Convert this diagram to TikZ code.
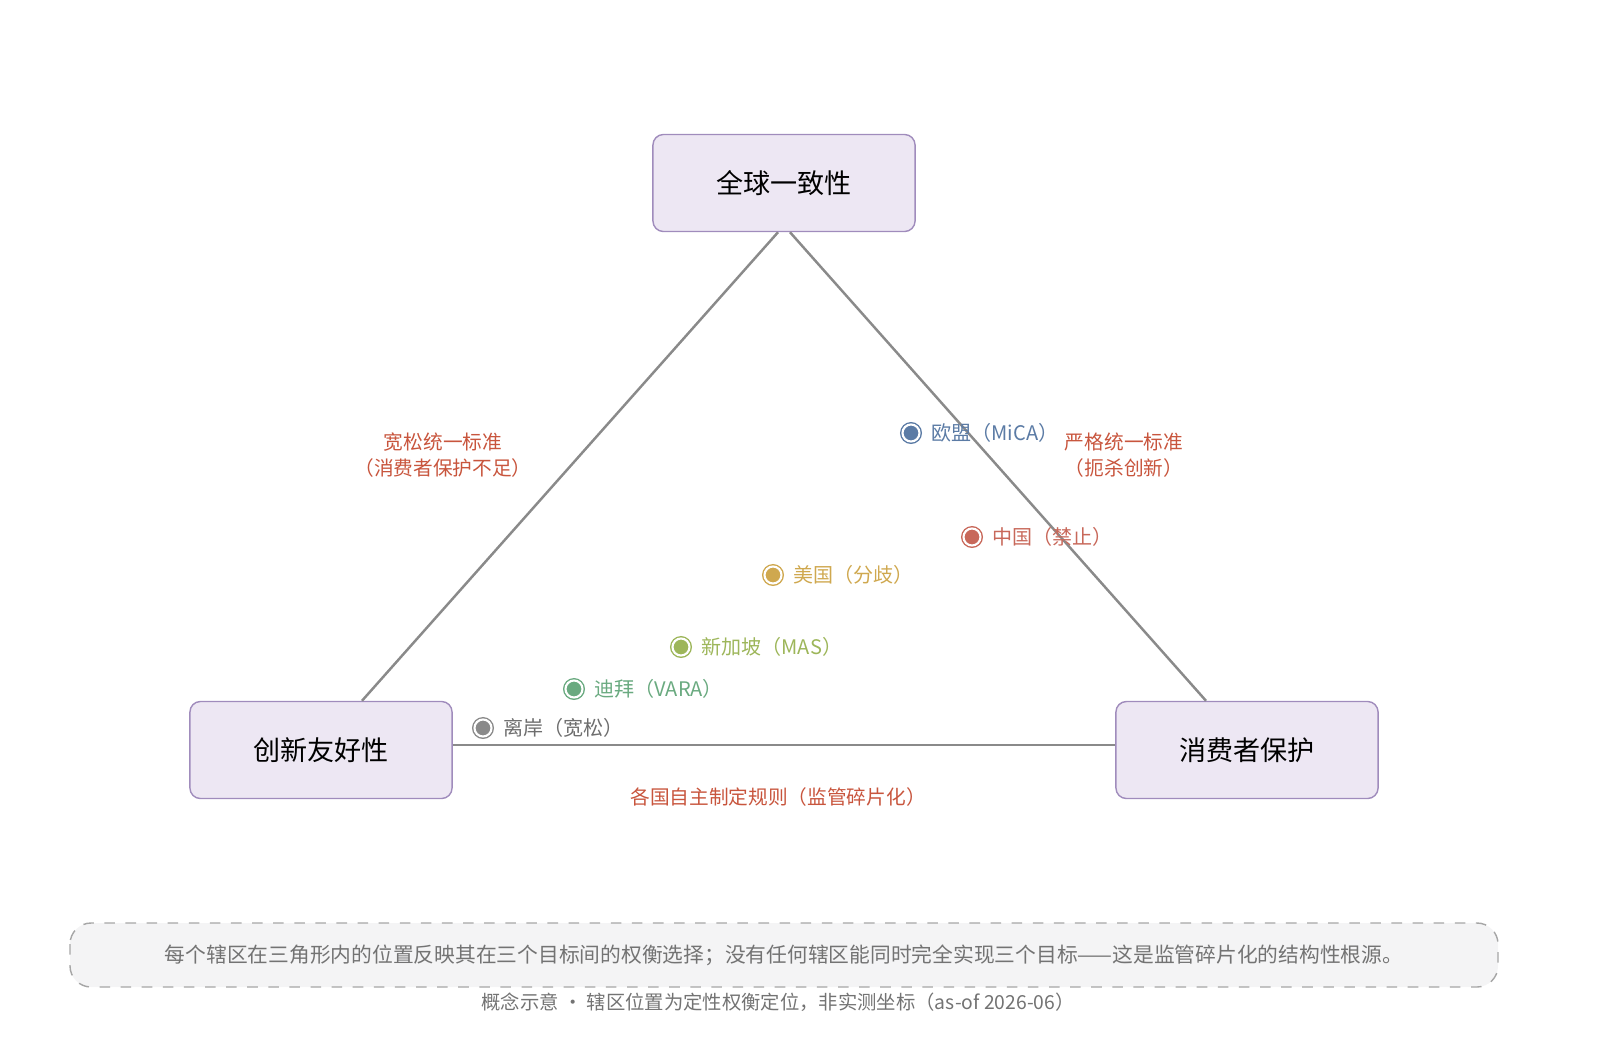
\documentclass[tikz,border=0pt]{standalone}
\usepackage{fontspec}
\setmainfont{Noto Sans CJK SC}
\definecolor{boxfill}{HTML}{EDE7F3}
\definecolor{boxdraw}{HTML}{A08CBC}
\definecolor{edgegray}{HTML}{8A8A8A}
\definecolor{tradered}{HTML}{C8553D}
\definecolor{eublue}{HTML}{5B7BA5}
\definecolor{cnred}{HTML}{C8685A}
\definecolor{usgold}{HTML}{CFA84F}
\definecolor{sggreen}{HTML}{9DB65A}
\definecolor{dbgreen}{HTML}{6AAA80}
\definecolor{offgray}{HTML}{8A8A8A}
\definecolor{notefill}{HTML}{F4F4F5}
\tikzset{
  goal/.style={draw=boxdraw, fill=boxfill, rounded corners=3pt, minimum width=2.62cm, minimum height=0.97cm, font=\fontsize{7.7}{9}\selectfont},
  tradeoff/.style={text=tradered, align=center, font=\fontsize{5.6}{7.6}\selectfont},
  juris/.style={circle, draw=#1, fill=#1, double=white, double distance=0.6pt, line width=0.4pt, minimum size=0.17cm, inner sep=0pt},
  jlabel/.style={right, font=\fontsize{5.7}{7}\selectfont, inner sep=3pt}
}
\begin{document}
\begin{tikzpicture}[x=0.01cm,y=-0.01cm]
\useasboundingbox (0,0) rectangle (1600,1054);

% three goals
\node[goal] (global) at (784,183) {全球一致性};
\node[goal] (innov) at (321,750) {创新友好性};
\node[goal] (consumer) at (1247,750) {消费者保护};

% triangle edges
\draw[edgegray, line width=0.7pt] (global.south) ++(-6,0) coordinate (gl) (gl) -- (innov.north -| 362,0);
\draw[edgegray, line width=0.7pt] (global.south) ++(6,0) coordinate (gr) (gr) -- (consumer.north -| 1206,0);
\draw[edgegray, line width=0.7pt] (innov.east |- 0,745) -- (consumer.west |- 0,745);

% trade-off labels
\node[tradeoff] (loose) at (443,455) {宽松统一标准\\（消费者保护不足）};
\node[tradeoff] (strict) at (1124,455) {严格统一标准\\（扼杀创新）};
\node[tradeoff] (frag) at (778,797) {各国自主制定规则（监管碎片化）};

% jurisdictions
\node[juris=eublue] (eu) at (911,433) {};
\node[jlabel, text=eublue] (eul) at (eu.east) {欧盟（MiCA）};
\node[juris=cnred] (cn) at (972,537) {};
\node[jlabel, text=cnred] (cnl) at (cn.east) {中国（禁止）};
\node[juris=usgold] (us) at (773,575) {};
\node[jlabel, text=usgold] (usl) at (us.east) {美国（分歧）};
\node[juris=sggreen] (sg) at (681,647) {};
\node[jlabel, text=sggreen] (sgl) at (sg.east) {新加坡（MAS）};
\node[juris=dbgreen] (db) at (574,689) {};
\node[jlabel, text=dbgreen] (dbl) at (db.east) {迪拜（VARA）};
\node[juris=offgray] (off) at (483,728) {};
\node[jlabel, text=offgray!80!black] (offl) at (off.east) {离岸（宽松）};

% note
\draw[dashed, draw=gray!70, fill=notefill, rounded corners=6pt] (70,923) rectangle (1498,987);
\node[text=gray!90!black, font=\fontsize{5.9}{7}\selectfont] (note) at (784,955) {每个辖区在三角形内的位置反映其在三个目标间的权衡选择；没有任何辖区能同时完全实现三个目标——这是监管碎片化的结构性根源。};
\node[text=gray!90!black, font=\fontsize{5.5}{7}\selectfont] (foot) at (778,1002) {概念示意 · 辖区位置为定性权衡定位，非实测坐标（as-of 2026-06）};
\end{tikzpicture}
\end{document}
